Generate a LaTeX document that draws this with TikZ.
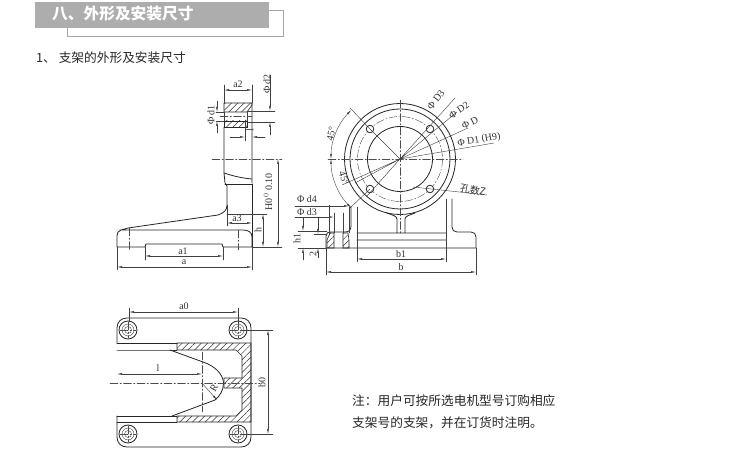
\documentclass[tikz,border=0pt]{standalone}
\usepackage{fontspec}
\setmainfont{Liberation Serif}
\newfontfamily\cjkfont{Noto Sans CJK SC}
\usetikzlibrary{patterns.meta,arrows.meta}
\begin{document}
\begin{tikzpicture}[x=1pt,y=-1pt,>={Latex[length=5pt,width=2pt]},line cap=round]
        % Styles
        \tikzstyle{outline}=[line width=.8pt,color=black!85]
        \tikzstyle{thin line}=[line width=.4pt,color=black!75]
        \tikzstyle{center line}=[line width=.4pt,color=black!70,dash pattern=on 8pt off 2pt on 1.5pt off 2pt]
        \tikzstyle{hatched}=[line width=.6pt,color=black!85,pattern={Lines[angle=45,distance=4.5pt,line width=.5pt]},pattern color=black!80]
        \tikzstyle{dim text}=[inner sep=0pt,font=\fontsize{10}{10}\selectfont,color=black!80]
        \tikzstyle{cjk text}=[inner sep=0pt,anchor=west,font=\cjkfont\fontsize{12.7}{12.7}\selectfont,color=black!85]
        \useasboundingbox (0,0) rectangle (750,449);
        \fill[white] (0,0) rectangle (750,449);
        %title bar
        \draw[line width=.7pt,color=black!35] (67,10) rectangle (283,36);
        \fill[color=black!32] (35,2) rectangle (269,28);
        \node[inner sep=0pt,anchor=west,text=white,font=\cjkfont\bfseries\fontsize{15.7}{15.7}\selectfont] (title) at (52,14) {八、外形及安装尺寸};
        \node[cjk text] (subtitle) at (36,58) {1、 支架的外形及安装尺寸};
        \node[cjk text] (note one) at (352,401) {注：用户可按所选电机型号订购相应};
        \node[cjk text] (note two) at (352,423) {支架号的支架，并在订货时注明。};
        %side view
        \draw[hatched] (224,103) -- (252,103) -- (252,105) -- (247,112) -- (224,112) -- cycle;
        \draw[hatched] (224,121) -- (247,121) -- (247,127) -- (224,127) -- cycle;
        \draw[outline] (252,103) -- (252,183) (224,127) -- (224,173) -- (225,183) -- (227,186) -- (227,205)
            .. controls (227,210) and (224,213) .. (218,215) -- (128,228) -- (121,230)
            .. controls (118,231) and (117,233) .. (117,236) -- (117,247) -- (145,247) -- (146,244) -- (222,244) -- (223,247) -- (252,247) -- (252,237)
            .. controls (252,232) and (248,230) .. (243,230) -- (120,230);
        \draw[outline] (224,173) .. controls (230,175) and (240,178) .. (252,179);
        \draw[outline] (225,184) -- (252,184) (252,184) -- (252,247);
        \draw[thin line] (247,112) -- (247,121) (224,112) -- (224,121);
        \draw[center line] (212,159) -- (282,159) (129,228) -- (129,250) (238,230) -- (238,250) (220,116.5) -- (252,116.5);
        %side view dimensions
        \draw[thin line] (224,85) -- (224,103) (252,85) -- (252,103) (252,247) -- (252,270) (117,247) -- (117,270)
            (145,247) -- (145,260) (223,247) -- (223,260) (252,247) -- (282,247) (227,214) -- (267,214) (227,205) -- (227,226)
            (216,112) -- (224,112) (216,121) -- (224,121) (247,111) -- (275,111) (247,122) -- (275,122) (245,120) -- (245,141);
        \draw[thin line,<->] (224,90) -- (252,90);
        \draw[thin line,<->] (117,267) -- (252,267);
        \draw[thin line,<->] (145,256) -- (223,256);
        \draw[thin line,<->] (227,223) -- (252,223);
        \draw[thin line,<->] (263,214) -- (263,247);
        \draw[thin line,<->] (278,159) -- (278,247);
        \draw[thin line,->] (217,101) -- (217,112);
        \draw[thin line,->] (217,133) -- (217,121);
        \draw[thin line,->] (270,75) -- (270,111);
        \draw[thin line,->] (270,135) -- (270,122);
        \draw[thin line,->] (230,137) -- (245,137);
        \draw[thin line,->] (265,137) -- (252,137);
        \node[dim text] (a2 label) at (238,84) {a2};
        \node[dim text] (a label) at (184,262) {a};
        \node[dim text] (a1 label) at (183,251) {a1};
        \node[dim text] (a3 label) at (237,218) {a3};
        \node[dim text,rotate=90] (h label) at (258,230) {h};
        \node[dim text,rotate=90] (d1 label) at (211,115) {Φ d1};
        \node[dim text,rotate=90] (d2 label) at (267,84) {Φ d2};
        \node[dim text,rotate=90] (l1 label) at (250,130) {l};
        \node[dim text,rotate=90] (H0 label) at (268,192) {H0$^{\,0}$\,0.10};
        %front view
        \coordinate (c) at (400,159);
        \draw[outline,fill=white] (c) circle (55.5);
        \draw[outline] (c) circle (50);
        \draw[center line] (c) circle (42.5);
        \draw[outline] (c) circle (32.5);
        \draw[center line] (328,159) -- (463,159) (400,100) -- (400,234);
        \foreach \hx/\hy in {370/129,430/129,370/189,430/189}
            \draw[outline,fill=white] (\hx,\hy) circle (3.8);
        \draw[outline] (326,248) -- (476,248) -- (476,237) .. controls (476,234) and (474,232) .. (471,232) -- (457,232)
            .. controls (454,232) and (452,230) .. (452,227) -- (452,199);
        \draw[outline] (326,248) -- (326,236) .. controls (326,233) and (328,232) .. (331,232) -- (345,232)
            .. controls (349,232) and (351,230) .. (351,226) -- (351,206);
        \draw[outline] (357,233) -- (446,233) (357,240) -- (446,240) (397,233) -- (397,219) .. controls (397,216) and (392,215) .. (387,213)
            (405,233) -- (405,219) .. controls (405,216) and (410,215) .. (415,213);
        \draw[hatched] (327,248) -- (327,240) -- (330,233) -- (334,233) -- (334,248) -- cycle;
        \draw[hatched] (343,233) -- (348,233) -- (349,240) -- (349,248) -- (343,248) -- cycle;
        %front view dimensions
        \draw[thin line] (c) -- (455,98) (c) -- (367,196) (c) -- (457,112) (c) -- (355,183) (c) -- (468,128) (c) -- (342,185)
            (c) -- (494,143) (c) -- (370,129) -- (350,108) (370,189) -- (350,208) (413,187) -- (487,195);
        \draw[thin line] (357,207) -- (357,262) (446,199) -- (446,262) (326,248) -- (326,275) (476,248) -- (476,275)
            (329,205) -- (329,235) (334,213) -- (334,233) (343,213) -- (343,233) (349,207) -- (349,233)
            (298,231) -- (327,231) (298,248) -- (326,248) (314,234) -- (327,234);
        \draw[thin line,->] (295,206) -- (349,206);
        \draw[thin line,->] (295,217) -- (334,217);
        \draw[thin line,<->] (357,259) -- (446,259);
        \draw[thin line,<->] (326,272) -- (476,272);
        \draw[thin line,->] (303,218) -- (303,231);
        \draw[thin line,->] (303,260) -- (303,248);
        \draw[thin line,->] (318,217) -- (318,234);
        \draw[thin line,->] (318,258) -- (318,248);
        \draw[thin line,<->] (351.2,110.2) arc[start angle=225,end angle=180,radius=69];
        \draw[thin line,<->] (331,159) arc[start angle=180,end angle=135,radius=69];
        \node[dim text,rotate=53] (D3 label) at (436,100) {Φ D3};
        \node[dim text,rotate=35] (D2 label) at (459,110) {Φ D2};
        \node[dim text,rotate=27] (D label) at (470,123) {Φ D};
        \node[dim text,rotate=10] (D1 label) at (479,140) {Φ D1 (H9)};
        \node[dim text,rotate=78] (top angle label) at (331,134) {45°};
        \node[dim text,rotate=-72] (low angle label) at (344,178) {45°};
        \node[inner sep=0pt,rotate=-10,font=\cjkfont\fontsize{10}{10}\selectfont,color=black!80] (holes label) at (473,190) {孔数Z};
        \node[dim text] (d4 label) at (307,199) {Φ d4};
        \node[dim text] (d3 label) at (307,212) {Φ d3};
        \node[dim text,rotate=90] (h1 label) at (297,239) {h1};
        \node[dim text,rotate=90] (e label) at (313,254) {2};
        \node[dim text] (b1 label) at (401,254) {b1};
        \node[dim text] (b label) at (401,267) {b};
        %plan view
        \draw[outline] (117,343) -- (117,328) .. controls (117,322) and (121,318) .. (127,318) -- (241,318)
            .. controls (247,318) and (251,322) .. (251,328) -- (251,437) .. controls (251,443) and (247,447) .. (241,447) -- (127,447)
            .. controls (121,447) and (117,443) .. (117,437) -- (117,416);
        \draw[hatched] (177,343) -- (251,343) -- (251,422) -- (177,422) -- (177,416) -- (236,416) -- (242,410) -- (242,388) -- (224,388)
            -- (224,378) -- (242,378) -- (242,356) -- (236,350) -- (177,350) -- cycle;
        \draw[outline] (117,343) -- (177,343) (117,350) -- (170,350) -- (177,350) (117,416) -- (177,416) (117,422) -- (177,422);
        \draw[outline] (170,350) -- (203,362) .. controls (215,366) and (223,374) .. (223.5,383) .. controls (223.5,390) and (220,396) .. (215,400) -- (172,416);
        \foreach \hx/\hy in {128/330,238/330,128/434,238/434} {
            \draw[outline] (\hx,\hy) circle (9);
            \draw[thin line] (\hx,\hy) circle (6);
            \draw[thin line] (\hx,\hy) circle (3.5);
            \draw[center line] (\hx-8,\hy) -- (\hx+8,\hy) (\hx,\hy-8) -- (\hx,\hy+8);
        }
        \draw[center line] (110,383) -- (260,383) (202,352) -- (202,412);
        %plan view dimensions
        \draw[thin line] (129,308) -- (129,322) (238,308) -- (238,322) (242,330) -- (273,330) (242,434) -- (273,434);
        \draw[thin line,<->] (129,312) -- (238,312);
        \draw[thin line,<->] (268,330) -- (268,434);
        \draw[thin line,<->] (117,374) -- (202,374);
        \draw[thin line,->] (202,383) -- (217,400);
        \node[dim text] (a0 label) at (184,306) {a0};
        \node[dim text] (l label) at (158,368) {l};
        \node[dim text,rotate=60] (R label) at (214,388) {R};
        \node[dim text,rotate=90] (b0 label) at (262,382) {b0};
\end{tikzpicture}
\end{document}
